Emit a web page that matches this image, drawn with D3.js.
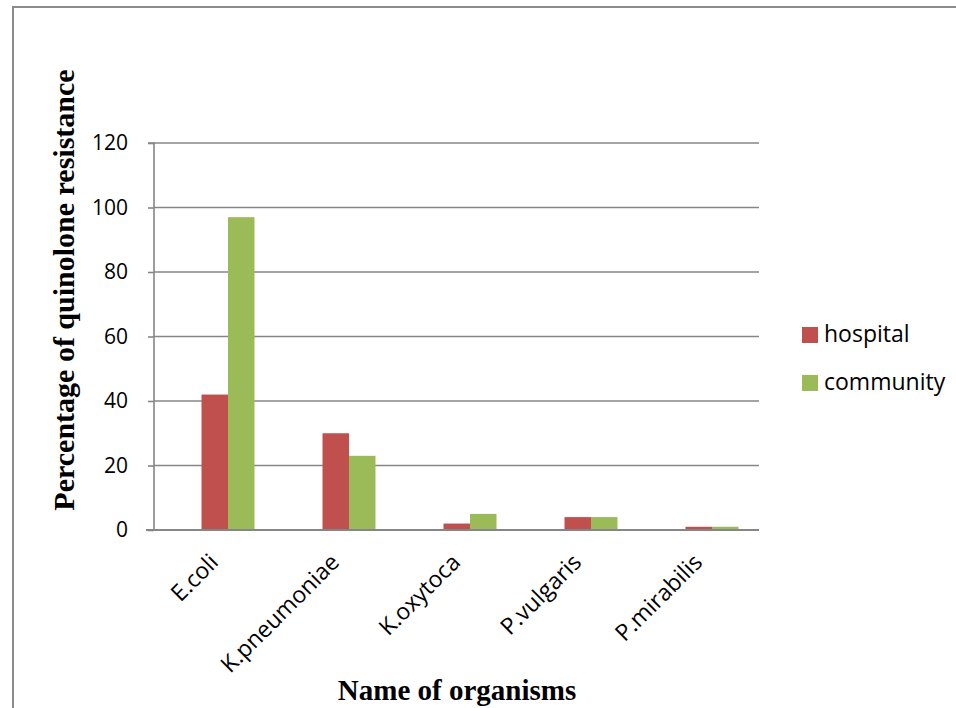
<!DOCTYPE html>
<html>
<head>
<meta charset="utf-8">
<script src="https://cdn.jsdelivr.net/npm/d3@7"></script>
<style>
  html, body { margin: 0; padding: 0; background: #fff; }
  svg { display: block; }
</style>
</head>
<body>
<svg id="chart" width="956" height="708"></svg>
<script>
// Quinolone resistance by organism, hospital vs community isolates
const organisms = ["E.coli", "K.pneumoniae", "K.oxytoca", "P.vulgaris", "P.mirabilis"];
const hospital  = [42, 30, 2, 4, 1];
const community = [97, 23, 5, 4, 1];
const seriesNames = ["hospital", "community"];
const seriesColors = ["#C0504D", "#9BBB59"];
const yTicks = [0, 20, 40, 60, 80, 100, 120];

const svg = d3.select("#chart");
const tickFont = "'Open Sans', sans-serif";
const titleFont = "'Liberation Serif', 'Times New Roman', serif";
const gridColor = "#868686";

// outer frame
svg.append("path")
  .attr("d", "M13,708 V7 H956")
  .attr("fill", "none")
  .attr("stroke", "#8c8c8c")
  .attr("stroke-width", 2);

const plot = { left: 154, right: 759, top: 143, bottom: 530 };

const y = d3.scaleLinear().domain([0, 120]).range([plot.bottom, plot.top]);

// category slots for the bar pairs
const x = d3.scaleBand().domain(organisms).range([167.5, 772.5]).padding(0);
const barW = 26.5;
const xs = d3.scaleBand().domain(seriesNames).range([-barW, barW]).padding(0);

// horizontal gridlines
svg.append("g")
  .selectAll("line")
  .data(yTicks.filter(t => t > 0))
  .join("line")
  .attr("x1", plot.left).attr("x2", plot.right)
  .attr("y1", d => y(d)).attr("y2", d => y(d))
  .attr("stroke", gridColor)
  .attr("stroke-width", 1.6);

// bars
const rows = organisms.map((o, i) => ({ org: o, vals: [hospital[i], community[i]] }));
svg.append("g")
  .selectAll("g")
  .data(rows)
  .join("g")
  .attr("transform", d => `translate(${x(d.org) + x.bandwidth() / 2},0)`)
  .selectAll("rect")
  .data(d => d.vals.map((v, j) => ({ v, s: seriesNames[j], c: seriesColors[j] })))
  .join("rect")
  .attr("x", d => xs(d.s))
  .attr("width", xs.bandwidth())
  .attr("y", d => y(d.v))
  .attr("height", d => y(0) - y(d.v))
  .attr("fill", d => d.c);

// y axis
const yAxis = d3.axisLeft(y).tickValues(yTicks).tickSize(6).tickPadding(20);
const gy = svg.append("g")
  .attr("transform", `translate(${plot.left},0)`)
  .call(yAxis);
gy.select(".domain").attr("stroke", gridColor).attr("stroke-width", 1.6)
  .attr("d", `M-6,${plot.top}H0V${plot.bottom}H-6`);
gy.selectAll(".tick line").attr("stroke", gridColor).attr("stroke-width", 1.6);
gy.selectAll(".tick text")
  .attr("font-family", tickFont)
  .attr("font-size", 21)
  .attr("fill", "#000");

// x axis baseline
svg.append("line")
  .attr("x1", plot.left - 8).attr("x2", plot.right)
  .attr("y1", plot.bottom).attr("y2", plot.bottom)
  .attr("stroke", gridColor)
  .attr("stroke-width", 2);

// rotated category labels
svg.append("g")
  .selectAll("text")
  .data(organisms)
  .join("text")
  .attr("transform", d => `translate(${x(d) + x.bandwidth() / 2 - 14},${plot.bottom + 28}) rotate(-45)`)
  .attr("text-anchor", "end")
  .attr("dy", "0.35em")
  .attr("font-family", tickFont)
  .attr("font-size", 23)
  .attr("fill", "#000")
  .text(d => d);

// axis titles
svg.append("text")
  .attr("transform", "translate(74,290) rotate(-90)")
  .attr("text-anchor", "middle")
  .attr("font-family", titleFont)
  .attr("font-weight", "bold")
  .attr("font-size", 30)
  .attr("fill", "#000")
  .text("Percentage of quinolone resistance");

svg.append("text")
  .attr("x", 457).attr("y", 700)
  .attr("text-anchor", "middle")
  .attr("font-family", titleFont)
  .attr("font-weight", "bold")
  .attr("font-size", 29)
  .attr("fill", "#000")
  .text("Name of organisms");

// legend
const legend = svg.append("g").attr("transform", "translate(802,327)");
const li = legend.selectAll("g")
  .data(seriesNames)
  .join("g")
  .attr("transform", (d, i) => `translate(0,${i * 48})`);
li.append("rect")
  .attr("width", 16).attr("height", 16)
  .attr("fill", (d, i) => seriesColors[i]);
li.append("text")
  .attr("x", 22).attr("y", 15)
  .attr("font-family", tickFont)
  .attr("font-size", 23)
  .attr("fill", "#000")
  .text(d => d);
</script>
</body>
</html>
